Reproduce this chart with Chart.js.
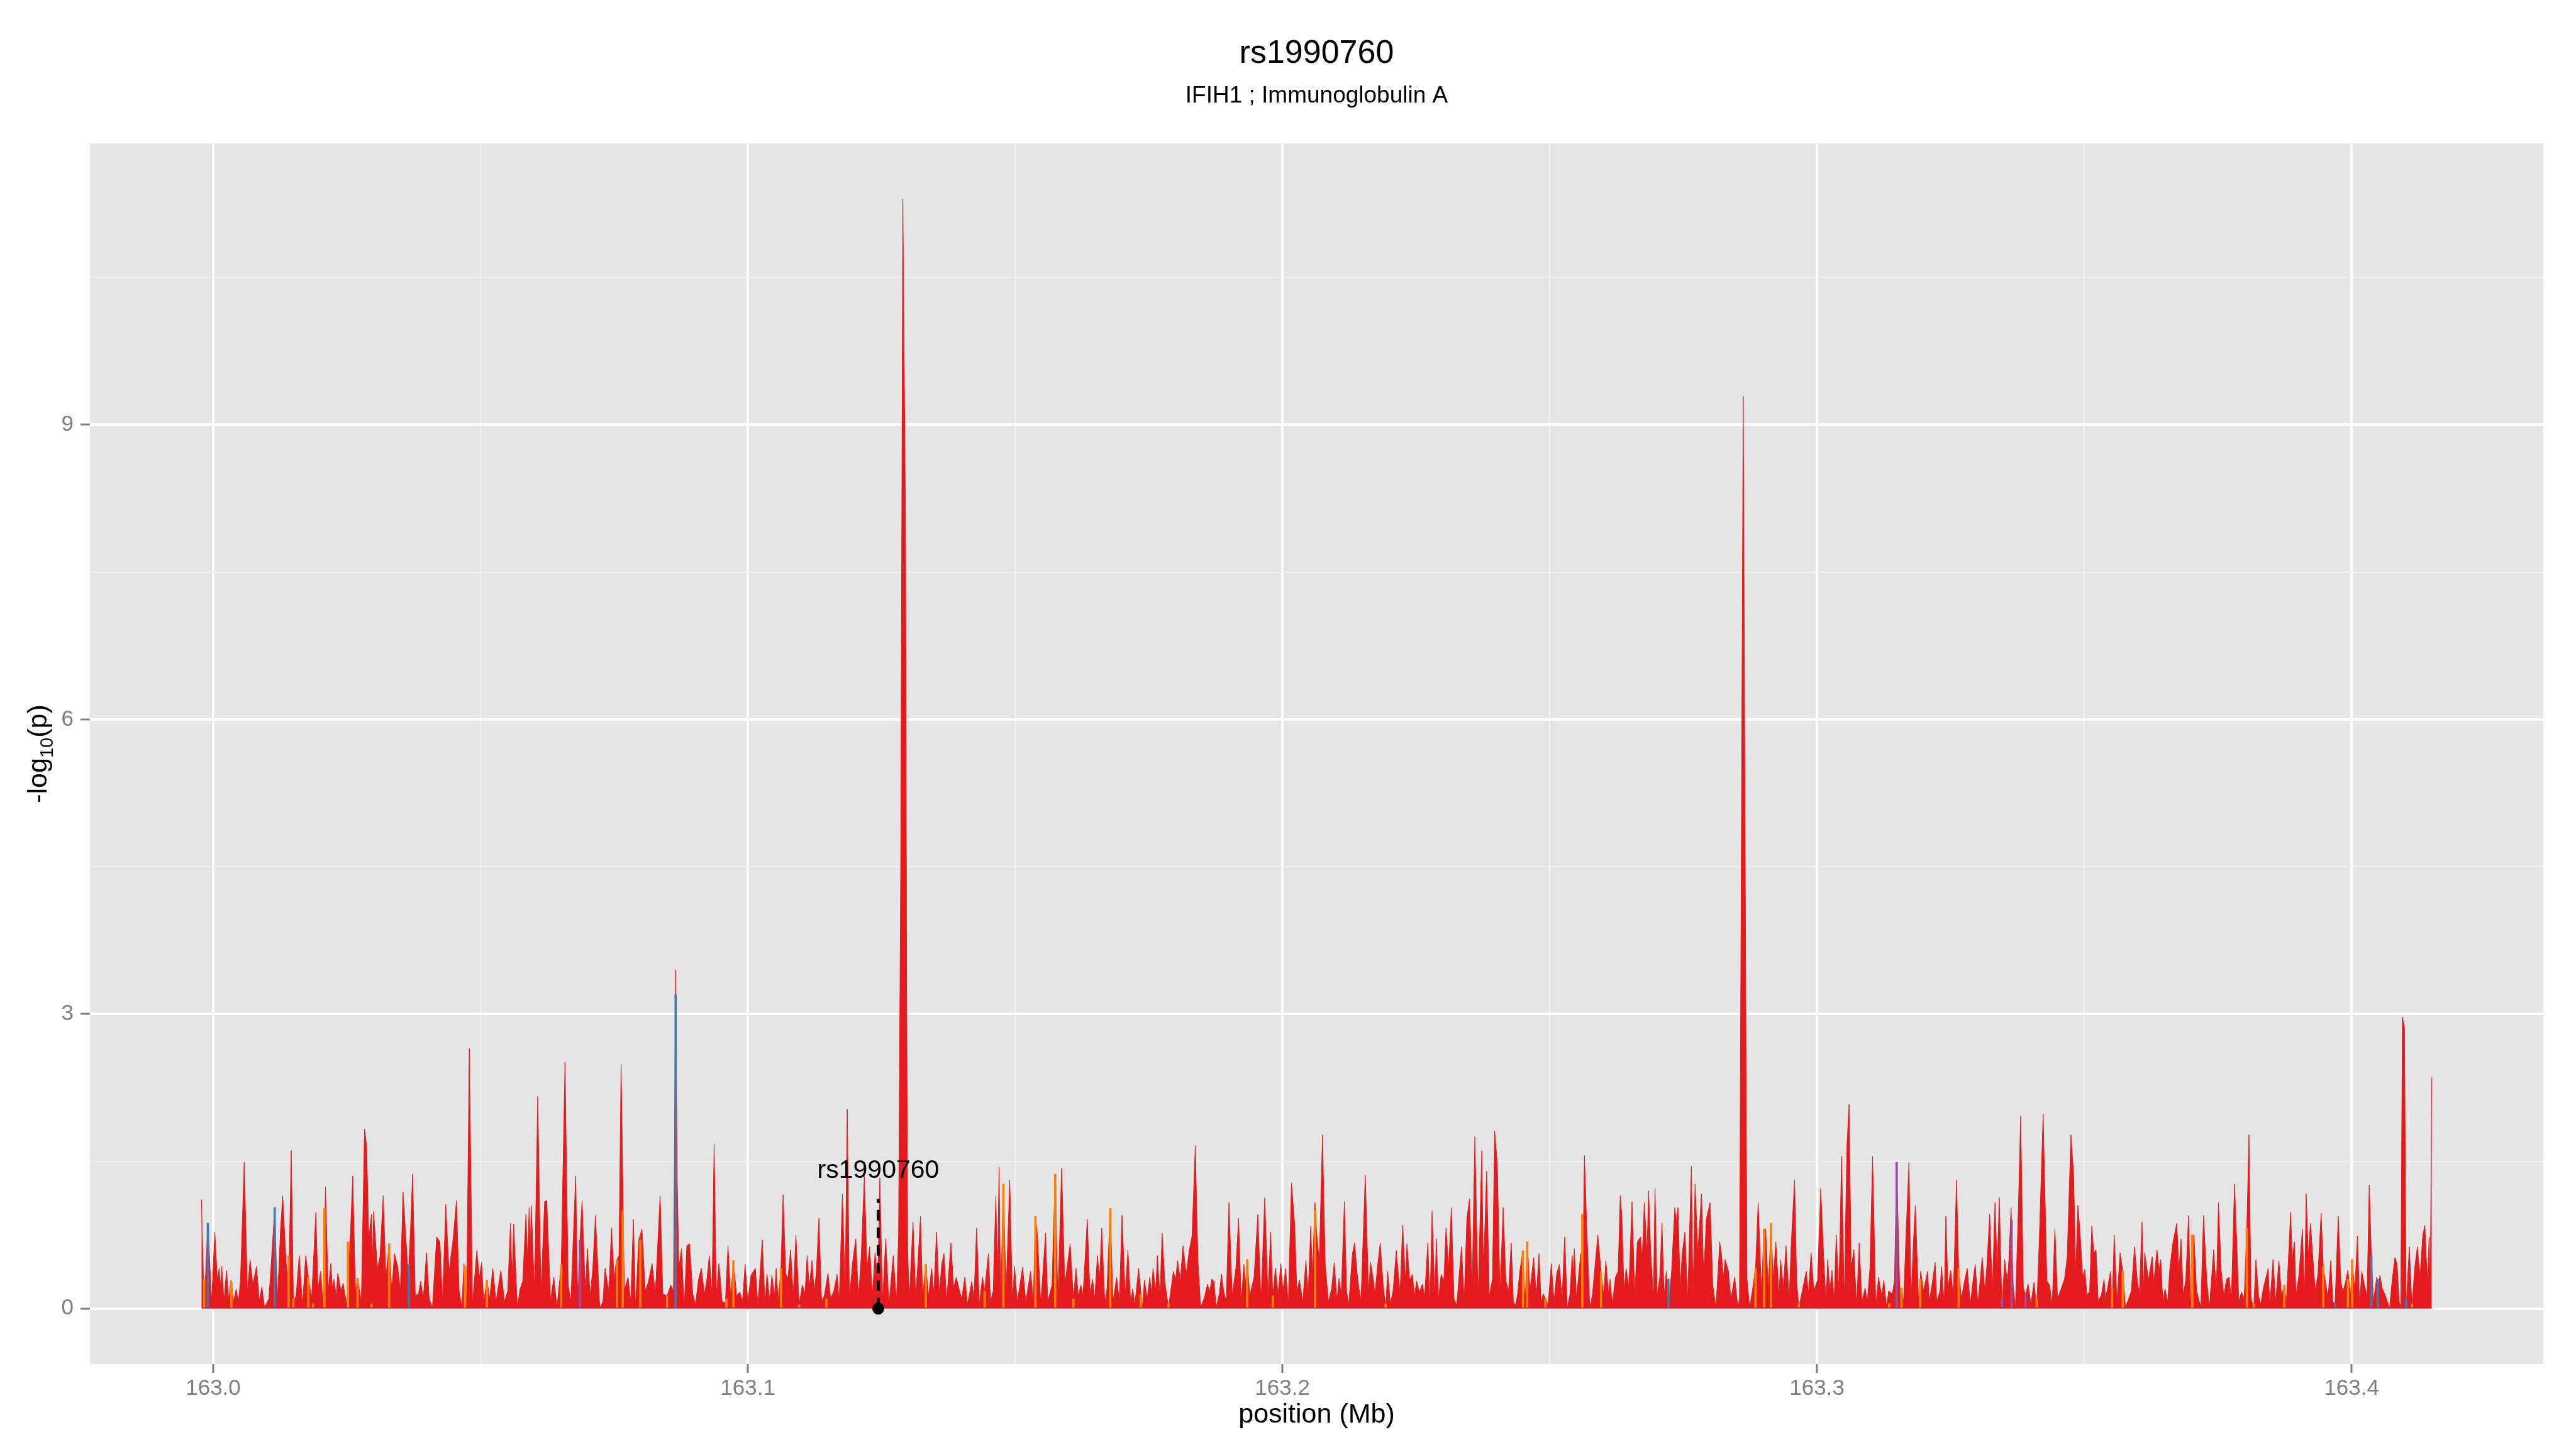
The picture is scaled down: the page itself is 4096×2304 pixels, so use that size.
<!DOCTYPE html>
<html lang="en">
<head>
<meta charset="UTF-8">
<title>rs1990760 regional association</title>
<script src="https://cdn.jsdelivr.net/npm/chart.js"></script>
<style>
  body { margin: 0; background: #ffffff; }
  canvas { display: block; }
</style>
</head>
<body>
<canvas id="chart" width="4096" height="2304"></canvas>
<script>
const titleText = 'rs1990760';
const subtitleText = 'IFIH1 ; Immunoglobulin A';
const xTitle = 'position (Mb)';

const xMajorTicks = [163.0, 163.1, 163.2, 163.3, 163.4];
const xMinorTicks = [163.05, 163.15, 163.25, 163.35];
const yMajorTicks = [0, 3, 6, 9];
const yMinorTicks = [1.5, 4.5, 7.5, 10.5];

// SNP positions in kb from 163.0 Mb, and their -log10(p)
const snpKb = [
  -2.2, -1.7, -1.0, -0.3, 0.3, 0.8, 1.1, 1.4, 1.6, 2.0,
  2.5, 2.9, 3.3, 3.8, 4.3, 4.7, 5.1, 5.8, 6.4, 6.9,
  7.4, 8.1, 8.6, 9.1, 9.6, 10.4, 10.8, 11.5, 12.0, 12.6,
  13.0, 13.6, 14.1, 14.6, 15.0, 15.5, 16.1, 16.7, 17.3, 17.8,
  18.4, 19.2, 19.6, 20.1, 20.6, 21.0, 21.5, 22.0, 22.3, 22.6,
  23.0, 23.3, 23.9, 24.3, 24.6, 25.0, 25.6, 26.1, 26.6, 27.0,
  27.7, 28.3, 28.7, 29.1, 29.6, 29.8, 30.0, 30.7, 31.2, 31.8,
  32.3, 32.9, 33.4, 33.9, 34.5, 35.0, 35.5, 36.0, 36.5, 36.9,
  37.3, 37.8, 38.4, 38.8, 39.3, 39.9, 40.4, 41.0, 41.8, 42.4,
  42.9, 43.5, 44.1, 44.8, 45.5, 46.0, 46.5, 46.9, 47.4, 47.9,
  48.5, 49.3, 49.8, 50.2, 50.6, 51.2, 51.7, 52.3, 52.9, 53.8,
  54.5, 55.1, 55.6, 55.9, 56.2, 56.9, 57.4, 57.9, 58.5, 58.8,
  59.1, 59.3, 59.5, 60.1, 60.7, 61.3, 62.0, 62.4, 63.1, 63.7,
  64.3, 65.1, 65.8, 66.4, 66.9, 67.8, 68.2, 68.6, 69.0, 69.6,
  70.0, 70.5, 71.0, 71.5, 72.3, 72.9, 73.3, 74.0, 74.5, 75.0,
  75.4, 75.9, 76.3, 76.9, 77.6, 78.1, 78.6, 79.0, 79.6, 80.2,
  80.8, 81.4, 82.1, 82.7, 83.6, 84.1, 84.9, 85.6, 86.1, 86.5,
  86.8, 87.1, 87.6, 88.1, 88.6, 89.1, 89.7, 90.2, 90.8, 91.3,
  91.9, 92.4, 92.8, 93.3, 93.7, 94.1, 94.6, 95.2, 95.8, 96.3,
  96.8, 97.3, 97.9, 98.5, 99.0, 99.5, 100.0, 100.6,
  101.4, 101.9, 102.7, 103.2, 103.6, 104.1, 104.5, 105.0, 105.3, 105.7,
  106.2, 106.6, 107.1, 107.5, 108.0, 108.5, 109.0, 109.6, 110.2, 110.7,
  111.1, 111.5, 112.0, 112.4, 112.8, 113.3, 113.8, 114.3, 115.0, 115.5,
  116.1, 116.7, 117.1, 117.7, 118.2, 118.6, 119.0, 119.6, 120.2, 120.7,
  121.2, 121.8, 122.3, 122.8, 123.3, 123.8, 124.3, 124.7, 125.2, 125.8,
  126.4, 127.2, 127.8, 128.2, 128.6, 129.0, 129.5, 129.7, 129.9, 130.2,
  130.9, 131.4, 131.8, 132.3, 132.7, 133.3, 133.8, 134.4, 134.8, 135.3,
  135.8, 136.3, 136.7, 137.2, 138.0, 138.5, 139.0, 139.5, 140.0, 140.6,
  141.1, 141.9, 142.3, 142.8, 143.3, 143.9, 144.3, 145.0, 145.4, 145.9,
  146.4, 146.7, 147.0, 147.3, 147.8, 148.3, 149.0, 149.5, 149.9, 150.4,
  150.9, 151.4, 152.0, 152.9, 153.4, 153.8, 154.2, 154.8, 155.7, 156.1,
  156.9, 157.5, 158.0, 158.7, 159.3, 159.7, 160.3, 160.9, 161.4, 161.8,
  162.3, 162.7, 163.5, 164.0, 164.5, 164.9, 165.4, 165.8, 166.2, 166.8,
  167.2, 167.8, 168.3, 169.0, 169.5, 170.0, 170.6, 171.1, 171.6, 172.0,
  172.4, 173.1, 173.8, 174.2, 174.7, 175.2, 175.5, 175.8, 176.3, 176.6,
  177.1, 177.5, 178.0, 178.7, 179.6, 180.0, 180.4, 180.9, 181.4, 182.0,
  182.6, 183.1, 183.7, 184.2, 184.7, 185.4, 186.0, 186.4, 186.8, 187.2,
  187.6, 188.2, 188.6, 189.0, 189.5, 190.0, 190.6, 191.3, 191.8, 192.3,
  192.8, 193.1, 193.4, 193.9, 194.7, 195.4, 196.0, 196.7, 197.3, 197.8,
  198.2, 198.7, 199.2, 199.7, 200.1, 200.6, 201.1, 201.7, 202.3, 202.7,
  203.2, 203.8, 204.4, 204.8, 205.3, 205.6, 206.1, 206.4, 206.9, 207.5,
  208.0, 208.6, 209.2, 209.7, 210.2, 210.6,
  211.0, 211.6, 212.0, 212.4, 213.1, 213.5, 214.0, 214.3, 214.7, 215.5,
  216.1, 216.5, 217.0, 217.3, 217.8, 218.3, 218.8, 219.3, 219.7, 220.2,
  220.7, 221.3, 222.0, 222.5, 223.0, 223.3, 223.8, 224.3, 224.7, 225.1,
  225.6, 226.2, 226.6, 227.2, 227.6, 228.0, 228.5, 228.8, 229.2, 229.7,
  230.2, 230.6, 231.1, 231.6, 232.1, 232.6, 233.5, 234.0, 234.5, 235.0,
  235.5, 236.0, 236.6, 237.3, 237.6, 238.2, 238.7, 239.3, 239.7, 240.2,
  240.7, 241.3, 241.8, 242.3, 242.8, 243.2, 243.6, 244.0, 244.4, 245.0,
  245.4, 245.8, 246.3, 247.0, 247.5, 248.0, 248.4, 248.8, 249.2, 249.7,
  250.3, 250.8, 251.3, 251.8, 252.3, 252.8, 253.3, 253.8, 254.2, 254.4,
  254.6, 255.0, 255.8, 256.1, 256.5, 256.9, 257.5, 258.0, 258.5, 259.0,
  259.6, 260.1, 260.5, 261.0, 261.3, 261.7, 262.3, 262.8, 263.2, 263.5,
  263.9, 264.3, 264.8, 265.4, 265.9, 266.4, 267.0, 267.3, 267.7, 268.2,
  268.5, 268.9, 269.4, 269.7, 270.1, 270.6, 271.0, 271.4, 271.8, 272.2,
  272.8, 273.4, 273.7, 274.0, 274.4, 274.8, 275.3, 275.8, 276.5, 276.8,
  277.2, 277.7, 278.4, 278.8, 279.3, 280.0, 280.5, 281.1, 281.8, 282.1,
  282.5, 282.8, 283.4, 283.9, 284.6, 285.2, 285.5, 286.2, 286.9, 287.4,
  287.9, 288.5, 289.0, 289.6, 290.1, 290.4, 290.9, 291.4, 291.8, 292.3,
  292.9, 293.2, 293.7, 294.2, 294.8, 295.2, 295.8, 296.2, 296.6, 297.5,
  298.0, 298.4, 298.9, 299.4, 300.1, 300.7, 301.3, 301.7, 302.0, 302.4,
  302.8, 303.2, 303.6, 304.1, 304.6, 305.1, 305.6, 306.0, 306.4, 306.9,
  307.4, 307.9, 308.4, 309.0, 309.4, 309.9, 310.4, 311.0, 311.5, 312.1,
  312.5, 313.0, 313.4, 314.1, 314.5, 314.9, 315.5, 315.8, 316.2, 316.6,
  317.2, 317.6, 318.0, 318.4, 319.0, 319.4, 319.9, 320.7, 321.0,
  321.5, 322.1, 322.4, 323.0, 323.3, 323.8, 324.1, 324.5, 325.0, 325.5,
  326.1, 326.5, 327.0, 327.6, 328.1, 328.7, 329.1, 329.6, 330.1, 330.9,
  331.4, 331.8, 332.3, 332.8, 333.3, 333.7, 334.1, 334.6, 335.1, 335.6,
  335.9, 336.3, 336.7, 337.1, 337.6, 338.1, 338.6, 339.0, 339.5, 340.0,
  340.6, 341.1, 341.6, 342.3, 343.0, 343.5, 344.0, 344.5, 345.0, 346.3,
  346.8, 347.5, 348.0, 348.4, 348.8, 349.2, 349.7, 350.1, 350.5, 351.0,
  351.4, 351.8, 352.2, 352.6, 353.2, 353.7, 354.0, 354.9, 355.2, 355.6,
  356.1, 356.7, 357.2, 357.7, 358.8, 359.4, 359.9, 360.3, 360.8, 361.1,
  361.3, 362.0, 362.7, 363.0, 363.6, 364.0, 364.3, 364.7, 365.1, 365.6,
  366.0, 366.6, 367.3, 367.7, 368.1, 368.5, 369.0, 369.5, 369.9, 370.5,
  371.0, 371.8, 372.3, 372.9, 373.4, 374.2, 374.7, 375.1, 375.6, 376.1,
  376.6, 377.1, 377.5, 378.1, 378.5, 378.9, 379.4, 379.9, 380.4, 380.8,
  381.2, 381.7, 382.1, 382.6, 383.0, 383.5, 384.4, 384.7, 385.3, 385.8,
  386.4, 386.9, 387.4, 387.8, 388.6, 388.9, 389.3, 389.6, 390.1, 390.8,
  391.2, 391.5, 391.9, 392.3, 392.7, 393.2, 393.7, 394.3, 394.7, 395.2,
  395.6, 396.1, 396.5, 396.9, 397.5, 398.0, 398.4, 398.9, 399.3, 399.8,
  400.1, 400.6, 401.1, 401.5, 401.9, 402.4, 402.9, 403.3, 403.7, 404.1,
  404.7, 405.0, 405.3, 405.7, 406.2, 406.7, 407.1, 407.5, 408.1, 408.5,
  408.9, 409.2, 409.5, 409.9, 410.2, 410.8, 411.3, 411.8, 412.3, 412.8,
  413.3, 413.7, 414.2, 414.5, 414.7, 415.0
];
const snpLogP = [
  1.11, 0.02, 0.87, 0.07, 0.78, 0.27, 0.41, 0.22, 0.43, 0.07,
  0.39, 0.07, 0.29, 0.07, 0.20, 0.06, 0.29, 1.49, 0.17, 0.50,
  0.24, 0.43, 0.08, 0.22, 0.01, 0.10, 0.41, 1.03, 0.07, 0.81,
  1.15, 0.50, 0.18, 1.61, 0.07, 0.13, 0.54, 0.03, 0.54, 0.32,
  0.10, 0.98, 0.20, 0.38, 0.01, 1.24, 0.18, 0.46, 0.20, 0.30,
  0.12, 0.36, 0.18, 0.26, 0.15, 0.04, 0.68, 1.35, 0.18, 0.31,
  0.06, 1.83, 1.65, 0.71, 0.96, 0.45, 0.99, 0.41, 0.53, 1.15,
  0.32, 0.66, 0.18, 0.56, 0.43, 0.18, 1.19, 0.75, 0.32, 0.80,
  1.37, 0.13, 0.15, 0.28, 0.10, 0.57, 0.10, 0.01, 0.73, 0.68,
  0.08, 1.06, 0.38, 0.67, 1.10, 0.18, 0.01, 0.46, 0.04, 2.65,
  0.04, 0.59, 0.32, 0.47, 0.07, 0.29, 0.10, 0.41, 0.07, 0.39,
  0.07, 0.18, 0.87, 0.30, 0.86, 0.01, 0.20, 0.28, 0.96, 0.50,
  1.03, 0.60, 1.05, 0.17, 2.16, 0.17, 1.09, 1.10, 0.07, 0.32,
  0.01, 0.45, 2.51, 0.24, 0.07, 1.35, 0.07, 0.70, 1.10, 0.18,
  0.61, 0.13, 0.40, 0.95, 0.01, 0.07, 0.41, 0.17, 0.82, 0.30,
  0.49, 0.54, 2.49, 0.18, 0.32, 0.07, 0.91, 0.01, 0.70, 0.81,
  0.18, 0.27, 0.46, 0.15, 1.15, 0.15, 0.13, 0.24, 0.18, 3.45,
  1.30, 0.41, 0.61, 0.01, 0.64, 0.66, 0.15, 0.04, 0.30, 0.41,
  0.15, 0.32, 0.54, 0.13, 1.68, 0.13, 0.46, 0.07, 0.06, 0.64,
  0.10, 0.49, 0.13, 0.17, 0.07, 0.45, 0.07, 0.34,
  0.41, 0.03, 0.70, 0.07, 0.35, 0.07, 0.34, 0.13, 0.41, 0.07,
  0.41, 1.16, 0.35, 0.31, 0.60, 0.13, 0.75, 0.04, 0.24, 0.15,
  0.54, 0.21, 0.49, 0.18, 0.35, 0.92, 0.07, 0.13, 0.36, 0.10,
  0.18, 0.35, 0.07, 1.17, 0.18, 2.03, 0.10, 0.47, 0.71, 0.10,
  0.52, 1.35, 0.41, 0.63, 0.13, 0.57, 0.29, 1.33, 0.07, 0.71,
  0.04, 0.54, 0.07, 0.75, 4.50, 11.30, 8.00, 3.50, 0.60, 0.08,
  0.88, 0.13, 0.45, 0.94, 0.13, 0.45, 0.13, 0.41, 0.15, 0.78,
  0.15, 0.46, 0.56, 0.07, 0.67, 0.21, 0.32, 0.20, 0.10, 0.32,
  0.04, 0.28, 0.10, 0.82, 0.04, 0.32, 0.18, 0.56, 0.07, 0.18,
  1.15, 0.27, 1.44, 0.07, 1.27, 0.15, 1.31, 0.07, 0.43, 0.07,
  0.24, 0.42, 0.07, 0.38, 0.07, 0.94, 0.73, 0.04, 0.77, 0.07,
  0.24, 1.37, 0.07, 1.43, 0.24, 0.41, 0.66, 0.10, 0.41, 0.13,
  0.24, 0.13, 0.91, 0.15, 0.30, 0.10, 0.54, 0.30, 0.82, 0.04,
  0.21, 1.02, 0.07, 0.32, 0.07, 0.95, 0.13, 0.60, 0.07, 0.20,
  0.04, 0.41, 0.01, 0.29, 0.10, 0.32, 0.15, 0.41, 0.18, 0.54,
  0.13, 0.77, 0.27, 0.01, 0.38, 0.29, 0.49, 0.28, 0.64, 0.35,
  0.60, 0.74, 1.66, 0.49, 0.01, 0.11, 0.25, 0.17, 0.30, 0.28,
  0.01, 0.15, 0.35, 0.18, 0.07, 1.08, 0.13, 0.41, 0.92, 0.07,
  0.45, 0.25, 0.50, 0.13, 0.32, 0.96, 0.07, 1.13, 0.13, 0.78,
  0.13, 0.41, 0.15, 0.46, 0.18, 0.41, 0.04, 1.28, 0.85, 0.18,
  0.29, 0.06, 0.49, 0.13, 0.84, 0.35, 1.08, 0.77, 0.49, 1.77,
  0.46, 0.07, 0.20, 0.47, 0.07, 0.31,
  0.13, 1.09, 0.18, 0.04, 0.56, 0.67, 0.35, 0.21, 0.08, 1.36,
  0.18, 0.47, 0.30, 0.15, 0.43, 0.67, 0.27, 0.01, 0.38, 0.04,
  0.18, 0.59, 0.15, 0.85, 0.29, 0.66, 0.29, 0.35, 0.13, 0.28,
  0.17, 0.25, 0.12, 0.67, 0.04, 0.99, 0.13, 0.71, 0.10, 0.35,
  0.28, 0.82, 0.41, 1.03, 0.10, 0.03, 0.63, 0.07, 0.91, 1.12,
  0.22, 1.75, 0.11, 1.61, 0.35, 1.40, 0.13, 0.30, 1.81, 1.47,
  0.15, 1.03, 0.28, 0.18, 0.67, 0.07, 0.03, 0.15, 0.38, 0.59,
  0.04, 0.68, 0.18, 0.52, 0.13, 0.56, 0.06, 0.15, 0.10, 0.04,
  0.46, 0.07, 0.35, 0.45, 0.10, 0.73, 0.01, 0.15, 0.54, 0.35,
  0.61, 0.10, 0.56, 0.01, 1.56, 0.87, 0.01, 0.14, 0.45, 0.75,
  0.38, 0.13, 0.49, 0.15, 0.30, 0.04, 0.32, 0.38, 1.15, 0.94,
  0.18, 0.41, 0.21, 1.09, 0.13, 0.68, 0.73, 0.50, 1.08, 0.57,
  1.20, 0.57, 0.10, 1.23, 0.13, 0.32, 0.87, 0.13, 0.38, 0.01,
  0.38, 1.03, 0.88, 1.03, 0.21, 0.57, 0.78, 0.07, 1.45, 0.13,
  1.27, 0.57, 1.17, 0.32, 0.91, 1.08, 0.24, 0.01, 0.68, 0.57,
  0.32, 0.50, 0.39, 0.10, 0.32, 0.01, 0.10, 9.29, 0.30, 0.01,
  0.18, 0.41, 1.08, 0.18, 0.81, 0.81, 0.18, 0.87, 0.29, 0.68,
  0.13, 0.50, 0.21, 0.64, 0.10, 0.68, 1.31, 0.27, 0.01, 0.25,
  0.38, 0.15, 0.57, 0.18, 0.29, 1.22, 0.46, 0.07, 0.50, 0.18,
  0.39, 0.07, 0.75, 0.18, 1.55, 0.07, 1.66, 2.08, 0.41, 0.60,
  0.01, 0.67, 0.07, 0.21, 0.07, 0.41, 1.55, 0.01, 0.32, 0.13,
  0.29, 0.01, 0.18, 0.15, 0.29, 1.49, 0.13, 0.21, 0.07, 0.67,
  1.49, 0.07, 0.64, 1.05, 0.06, 0.38, 0.18, 0.38, 0.07,
  0.24, 0.47, 0.07, 0.18, 0.43, 0.04, 0.94, 0.21, 0.39, 0.13,
  1.31, 0.41, 0.10, 0.28, 0.41, 0.04, 0.25, 0.45, 0.04, 0.52,
  0.18, 0.45, 0.96, 0.17, 1.08, 0.41, 1.13, 0.00, 0.50, 0.27,
  0.50, 1.03, 0.24, 0.00, 0.88, 1.96, 0.21, 0.14, 0.25, 0.04,
  0.27, 0.00, 0.73, 1.98, 0.28, 0.24, 0.04, 0.81, 0.10, 0.30,
  0.52, 1.77, 1.37, 0.38, 1.05, 0.78, 0.32, 0.40, 0.13, 0.18,
  0.84, 0.56, 0.60, 0.07, 0.14, 0.30, 0.10, 0.38, 0.03, 0.75,
  0.07, 0.57, 0.38, 0.01, 0.18, 0.63, 0.29, 0.15, 0.88, 0.18,
  0.57, 0.29, 0.53, 0.27, 0.60, 0.39, 0.50, 0.07, 0.20, 0.07,
  0.41, 0.68, 0.87, 0.39, 0.71, 0.13, 0.30, 0.95, 0.01, 0.75,
  0.18, 0.01, 0.95, 0.29, 0.01, 0.60, 0.18, 1.08, 0.39, 0.13,
  0.30, 0.32, 0.08, 1.27, 0.70, 0.07, 0.17, 0.10, 0.82, 1.77,
  0.10, 0.01, 0.50, 0.13, 0.04, 0.21, 0.41, 0.03, 0.50, 0.07,
  0.49, 0.13, 0.24, 0.07, 0.98, 0.49, 0.68, 0.13, 0.32, 0.81,
  0.13, 1.17, 0.54, 0.87, 0.56, 0.18, 0.35, 0.97, 0.43, 0.24,
  0.11, 0.49, 0.07, 0.04, 0.94, 0.27, 0.17, 0.28, 0.39, 0.13,
  0.50, 0.18, 0.74, 0.04, 0.38, 0.24, 0.13, 1.26, 0.54, 0.07,
  0.32, 0.20, 0.34, 0.21, 0.15, 0.07, 0.00, 0.24, 0.52, 0.46,
  0.07, 0.01, 2.97, 2.86, 0.01, 0.63, 0.01, 0.41, 0.63, 0.32,
  0.74, 0.85, 0.24, 0.73, 0.13, 2.36
];

// SNPs drawn in the other LD colours
const orangeKb = [
  -1.7, 3.4, 14.1, 15.0, 17.8, 18.7, 20.8, 25.2, 27.0, 29.6,
  32.9, 47.1, 51.2, 65.1, 75.5, 76.6, 79.9, 84.9, 96.0, 97.3,
  106.2, 109.6, 114.7, 133.3, 144.3, 147.8, 153.8, 157.5, 160.9, 167.8,
  173.5, 178.7, 193.4, 198.2, 206.1, 219.3, 245.0, 245.8, 249.2, 256.1,
  259.6, 288.5, 290.1, 291.4, 296.6, 313.5, 315.8, 319.3, 326.5, 341.1,
  355.2, 357.2, 370.2, 380.4, 381.7, 387.4, 394.7, 399.3, 400.1, 411.3
];
const orangeLogP = [
  0.30, 0.27, 0.54, 0.10, 0.32, 0.05, 1.02, 0.68, 0.31, 0.05,
  0.66, 0.43, 0.29, 0.45, 0.50, 1.00, 0.70, 0.13, 0.10, 0.49,
  0.41, 0.04, 0.10, 0.45, 0.18, 1.27, 0.94, 1.37, 0.10, 1.02,
  0.15, 0.05, 0.50, 0.13, 1.00, 0.05, 0.59, 0.68, 0.10, 0.96,
  0.38, 0.41, 0.81, 0.87, 0.05, 0.05, 0.21, 0.30, 0.41, 0.10,
  0.20, 0.38, 0.75, 0.82, 0.05, 0.24, 0.43, 0.30, 0.50, 0.05
];
const blueKb = [-1.0, 11.5, 36.6, 86.5, 272.2, 396.9, 403.7, 404.9, 410.2];
const blueLogP = [0.87, 1.03, 0.45, 3.20, 0.30, 0.05, 0.54, 0.30, 0.10];
const purpleKb = [68.6, 314.9, 334.6, 336.4, 339.0];
const purpleLogP = [0.70, 1.49, 0.10, 0.90, 0.15];

// highlighted SNP
const leadName = 'rs1990760';
const leadKb = 124.4;
const leadLineTop = 1.12;
const leadLabelY = 1.40;

const FONT = '"Liberation Sans", Arial, Helvetica, sans-serif';
const GREY = '#7F7F7F';
const panel = { left: 143, top: 228, right: 4044, bottom: 2169 };

const toMb = kb => 163 + kb / 1000;
const points = (kbs, vals) => kbs.map((k, i) => ({ x: toMb(k), y: vals[i] }));
const near = (list, v) => list.some(t => Math.abs(t - v) < 1e-9);
const isMajorTick = (list, c) => !!(c && c.tick && near(list, c.tick.value));

// ggplot-style 5% expansion of the data range
const xLo = toMb(Math.min(...snpKb));
const xHi = toMb(Math.max(...snpKb));
const yHi = Math.max(...snpLogP);
const xPad = (xHi - xLo) * 0.05;
const yPad = yHi * 0.05;

const panelBg = {
  id: 'panelBg',
  beforeDraw(chart) {
    const { ctx, chartArea: a } = chart;
    ctx.save();
    ctx.fillStyle = '#ffffff';
    ctx.fillRect(0, 0, chart.width, chart.height);
    ctx.fillStyle = '#E5E5E5';
    ctx.fillRect(a.left, a.top, a.right - a.left, a.bottom - a.top);
    ctx.restore();
  }
};

const labels = {
  id: 'labels',
  afterDraw(chart) {
    const { ctx, chartArea: a, scales } = chart;
    const cx = (a.left + a.right) / 2;
    const cy = (a.top + a.bottom) / 2;
    ctx.save();
    ctx.fillStyle = '#000000';
    ctx.textAlign = 'center';
    ctx.textBaseline = 'middle';

    ctx.font = '52px ' + FONT;
    ctx.fillText(titleText, cx, 86);
    ctx.font = '37px ' + FONT;
    ctx.fillText(subtitleText, cx, 153);
    ctx.font = '43px ' + FONT;
    ctx.fillText(xTitle, cx, 2250);

    // lead SNP label
    ctx.font = '41px ' + FONT;
    ctx.fillText(leadName, scales.x.getPixelForValue(toMb(leadKb)), scales.y.getPixelForValue(leadLabelY));

    // y title: -log10(p) with subscript
    ctx.translate(62, cy);
    ctx.rotate(-Math.PI / 2);
    ctx.textAlign = 'left';
    ctx.textBaseline = 'alphabetic';
    const parts = [['-log', 43, 0], ['10', 29, 10], ['(p)', 43, 0]];
    let w = 0;
    parts.forEach(p => { ctx.font = p[1] + 'px ' + FONT; w += ctx.measureText(p[0]).width; });
    let x = -w / 2;
    parts.forEach(p => {
      ctx.font = p[1] + 'px ' + FONT;
      ctx.fillText(p[0], x, 12 + p[2]);
      x += ctx.measureText(p[0]).width;
    });
    ctx.restore();
  }
};

const gridOpts = (majors, tickLen) => ({
  offset: false,
  color: c => isMajorTick(majors, c) ? '#FFFFFF' : '#F2F2F2',
  lineWidth: c => isMajorTick(majors, c) ? 4 : 2,
  tickColor: c => isMajorTick(majors, c) ? GREY : 'rgba(0,0,0,0)',
  tickLength: tickLen,
  tickWidth: 3,
  drawTicks: true
});

new Chart(document.getElementById('chart'), {
  type: 'line',
  data: {
    datasets: [
      {
        label: 'lead dot',
        data: [{ x: toMb(leadKb), y: 0 }],
        showLine: false,
        pointRadius: 9.5,
        pointBackgroundColor: '#000000',
        pointBorderWidth: 0,
        order: 0
      },
      {
        label: 'lead line',
        data: [{ x: toMb(leadKb), y: 0 }, { x: toMb(leadKb), y: leadLineTop }],
        borderColor: '#000000',
        borderWidth: 4.5,
        borderDash: [17, 11],
        pointRadius: 0,
        fill: false,
        order: 1
      },
      {
        type: 'bar',
        label: 'purple',
        data: points(purpleKb, purpleLogP),
        backgroundColor: '#984EA3',
        barThickness: 3,
        grouped: false,
        order: 2
      },
      {
        type: 'bar',
        label: 'blue',
        data: points(blueKb, blueLogP),
        backgroundColor: '#377EB8',
        barThickness: 3,
        grouped: false,
        order: 3
      },
      {
        type: 'bar',
        label: 'orange',
        data: points(orangeKb, orangeLogP),
        backgroundColor: '#FF7F00',
        barThickness: 3,
        grouped: false,
        order: 4
      },
      {
        label: '-log10(p)',
        data: points(snpKb, snpLogP),
        borderColor: '#E41A1C',
        backgroundColor: '#E41A1C',
        borderWidth: 1,
        pointRadius: 0,
        tension: 0,
        fill: 'origin',
        order: 5
      }
    ]
  },
  options: {
    responsive: false,
    animation: false,
    devicePixelRatio: 1,
    events: [],
    layout: { padding: { left: 0, top: panel.top, right: 4096 - panel.right, bottom: 0 } },
    plugins: { legend: { display: false }, tooltip: { enabled: false }, title: { display: false } },
    scales: {
      x: {
        type: 'linear',
        min: xLo - xPad,
        max: xHi + xPad,
        offset: false,
        afterFit: s => { s.height = 2304 - panel.bottom; },
        afterBuildTicks: s => { s.ticks = [...xMajorTicks, ...xMinorTicks].sort((a, b) => a - b).map(v => ({ value: v })); },
        ticks: {
          callback: v => near(xMajorTicks, v) ? v.toFixed(1) : '',
          color: GREY,
          font: { size: 35, family: FONT },
          padding: 4,
          maxRotation: 0,
          autoSkip: false
        },
        grid: gridOpts(xMajorTicks, 14),
        border: { display: false }
      },
      y: {
        type: 'linear',
        min: -yPad,
        max: yHi + yPad,
        afterFit: s => { s.width = panel.left; },
        afterBuildTicks: s => { s.ticks = [...yMajorTicks, ...yMinorTicks].sort((a, b) => a - b).map(v => ({ value: v })); },
        ticks: {
          callback: v => near(yMajorTicks, v) ? String(v) : '',
          color: GREY,
          font: { size: 35, family: FONT },
          padding: 11,
          autoSkip: false
        },
        grid: gridOpts(yMajorTicks, 15),
        border: { display: false }
      }
    }
  },
  plugins: [panelBg, labels]
});
</script>
</body>
</html>
